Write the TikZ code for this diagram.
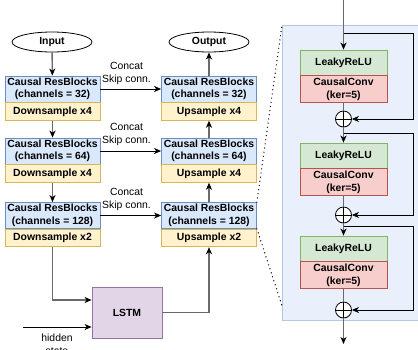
\documentclass[tikz,border=0pt]{standalone}
\usepackage{fontspec}
\setmainfont{Liberation Sans}
\usetikzlibrary{arrows.meta,shapes.geometric}
\definecolor{bfill}{HTML}{DAE8FC}\definecolor{bdraw}{HTML}{6C8EBF}
\definecolor{yfill}{HTML}{FFF2CC}\definecolor{ydraw}{HTML}{D6B656}
\definecolor{gfill}{HTML}{D5E8D4}\definecolor{gdraw}{HTML}{82B366}
\definecolor{rfill}{HTML}{F8CECC}\definecolor{rdraw}{HTML}{B85450}
\definecolor{pfill}{HTML}{E1D5E7}\definecolor{pdraw}{HTML}{9673A6}
\definecolor{panfill}{HTML}{EAF0FB}\definecolor{pandraw}{HTML}{B3C8E6}
\definecolor{lgray}{HTML}{6A6A6A}
\begin{document}
\begin{tikzpicture}[x=1pt,y=-1pt,
  every node/.style={font=\fontsize{10.4}{12.5}\selectfont},
  blk/.style={draw=bdraw,fill=bfill,line width=0.8pt,minimum width=95pt,minimum height=26pt,inner sep=0pt,align=center,font=\fontsize{10.4}{12.5}\selectfont\bfseries},
  ylw/.style={draw=ydraw,fill=yfill,line width=0.8pt,minimum width=95pt,minimum height=17.5pt,inner sep=0pt,anchor=north,font=\fontsize{10.4}{12.5}\selectfont\bfseries},
  grn/.style={draw=gdraw,fill=gfill,line width=0.8pt,minimum width=87pt,minimum height=25pt,inner sep=0pt,font=\fontsize{10.4}{12.5}\selectfont\bfseries},
  red/.style={draw=rdraw,fill=rfill,line width=0.8pt,minimum width=87pt,minimum height=27pt,inner sep=0pt,anchor=north,align=center,font=\fontsize{10.4}{12.5}\selectfont\bfseries},
  ell/.style={ellipse,draw=black,fill=white,line width=0.8pt,minimum width=80pt,minimum height=20pt,inner sep=0pt,font=\fontsize{10.4}{12.5}\selectfont\bfseries},
  lstmbox/.style={draw=pdraw,fill=pfill,line width=0.8pt,minimum width=70pt,minimum height=51pt,inner sep=0pt,font=\fontsize{10.4}{12.5}\selectfont\bfseries},
  plus/.style={circle,draw=black,fill=white,line width=0.8pt,minimum size=16pt,inner sep=0pt,
    path picture={\draw[line width=0.8pt] (path picture bounding box.north) -- (path picture bounding box.south)
      (path picture bounding box.west) -- (path picture bounding box.east);}},
  gl/.style={draw=lgray,line width=1.4pt},
  ga/.style={gl,-{Stealth[length=7pt,width=6pt,inset=2pt,color=black]}},
  ba/.style={draw=black,line width=0.9pt,-{Stealth[length=7pt,width=6pt,inset=2pt]}},
  bl/.style={draw=black,line width=0.9pt},
  dots/.style={draw=black,line width=1.4pt,line cap=round,dash pattern=on 0pt off 4.2pt}
]
\useasboundingbox (0,0) rectangle (418,349);
\clip (0,0) rectangle (418,349);
% panel
\node[draw=pandraw,fill=panfill,line width=0.8pt,minimum width=145pt,minimum height=295pt,inner sep=0pt,anchor=north west] (panel) at (282,25) {};
% ellipses
\node[ell] (in) at (52,42) {Input};
\node[ell] (out) at (209,42) {Output};
% left column
\node[blk] (l1) at (52.5,89) {Causal ResBlocks\\(channels = 32)};
\node[ylw] (l1y) at (l1.south) {Downsample x4};
\node[blk] (l2) at (52.5,151) {Causal ResBlocks\\(channels = 64)};
\node[ylw] (l2y) at (l2.south) {Downsample x4};
\node[blk] (l3) at (52.5,215.5) {Causal ResBlocks\\(channels = 128)};
\node[ylw] (l3y) at (l3.south) {Downsample x2};
% right column
\node[blk] (r1) at (209,89) {Causal ResBlocks\\(channels = 32)};
\node[ylw] (r1y) at (r1.south) {Upsample x4};
\node[blk] (r2) at (209,151) {Causal ResBlocks\\(channels = 64)};
\node[ylw] (r2y) at (r2.south) {Upsample x4};
\node[blk] (r3) at (209,215.5) {Causal ResBlocks\\(channels = 128)};
\node[ylw] (r3y) at (r3.south) {Upsample x2};
% LSTM
\node[lstmbox] (lstm) at (127,312.5) {LSTM};
\coordinate (hs) at (23,327);
\node[align=center] (hl) at (57,344.5) {hidden\\state};
% skip connections
\draw[ba] (l1.east) -- (r1.west);
\draw[ba] (l2.east) -- (r2.west);
\draw[ba] (l3.east) -- (r3.west);
\node[align=center] (c1) at (126.5,73.5) {Concat\\Skip conn.};
\node[align=center] (c2) at (126.5,134.5) {Concat\\Skip conn.};
\node[align=center] (c3) at (126.5,199.5) {Concat\\Skip conn.};
% vertical flow
\draw[ga] (in) -- (l1);
\draw[ga] (l1y) -- (l2);
\draw[ga] (l2y) -- (l3);
\draw[ga] (l3y.south) |- ([yshift=12.5pt]lstm.west);
\draw[ba] (hs) -- ([yshift=-14.5pt]lstm.west);
\draw[ga] (lstm.east) -| (r3y.south);
\draw[ga] (r3.north) -- (r2y.south);
\draw[ga] (r2.north) -- (r1y.south);
\draw[ga] (r1.north) -- (out.south);
% dotted zoom lines
\draw[dots] (r3.north east) -- (panel.north west);
\draw[dots] (r3.south east) -- ([yshift=15pt]panel.south west);
% residual blocks
\node[grn] (g1) at (343.5,62.5) {LeakyReLU};
\node[red] (cc1) at (g1.south) {CausalConv\\(ker=5)};
\node[plus] (p1) at (343.5,119) {};
\node[grn] (g2) at (343.5,155.5) {LeakyReLU};
\node[red] (cc2) at (g2.south) {CausalConv\\(ker=5)};
\node[plus] (p2) at (343.5,215) {};
\node[grn] (g3) at (343.5,248.5) {LeakyReLU};
\node[red] (cc3) at (g3.south) {CausalConv\\(ker=5)};
\node[plus] (p3) at (343.5,310) {};
\coordinate (top) at (343.5,0);
\coordinate (bot) at (343.5,344);
\coordinate (b1) at (343.5,33); \coordinate (k1) at (413,33);
\coordinate (b2) at (343.5,133); \coordinate (k2) at (413,133);
\coordinate (b3) at (343.5,226); \coordinate (k3) at (413,226);
\draw[ga] (top) -- (g1.north);
\draw[gl] (cc1.south) -- (p1.north);
\draw[ga] (p1.south) -- (g2.north);
\draw[gl] (cc2.south) -- (p2.north);
\draw[ga] (p2.south) -- (g3.north);
\draw[gl] (cc3.south) -- (p3.north);
\draw[ga] (p3.south) -- (bot);
\draw[ba] (b1) -- (k1) |- (p1.east);
\draw[ba] (b2) -- (k2) |- (p2.east);
\draw[ba] (b3) -- (k3) |- (p3.east);
\end{tikzpicture}
\end{document}
